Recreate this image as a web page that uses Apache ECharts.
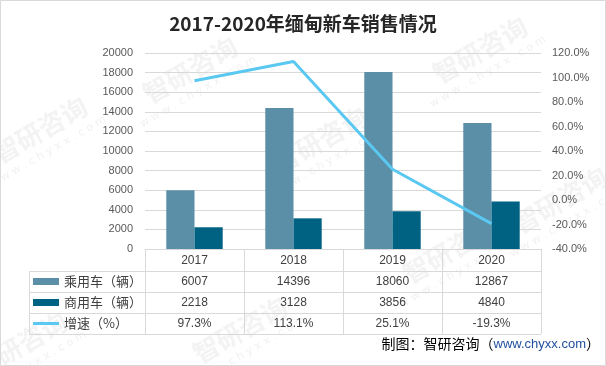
<!DOCTYPE html>
<html><head><meta charset="utf-8">
<script src="https://cdn.jsdelivr.net/npm/echarts@6/dist/echarts.min.js"></script>
<style>html,body{margin:0;padding:0;background:#fff}#c{width:606px;height:366px}</style>
</head><body><div id="c"></div>
<script>
var title = '2017-2020年缅甸新车销售情况';
var years = ['2017', '2018', '2019', '2020'];
var seriesNames = ['乘用车（辆）', '商用车（辆）', '增速（%）'];
var passenger = [6007, 14396, 18060, 12867];
var commercial = [2218, 3128, 3856, 4840];
var growth = [97.3, 113.1, 25.1, -19.3];
var growthLabels = ['97.3%', '113.1%', '25.1%', '-19.3%'];
var source = '制图：智研咨询（';
var sourceUrl = 'www.chyxx.com';

var chart = echarts.init(document.getElementById('c'), null, {renderer: 'canvas'});
var grid = {left: 145, right: 65, top: 53, bottom: 117};
var gridColor = '#d9d9d9';
var tableLeft = 29, tableRight = 541, rowTop = 271, rowH = 21;

var graphics = [
  {type: 'rect', shape: {x: 0.5, y: 0.5, width: 605, height: 365}, style: {fill: 'none', stroke: '#d9d9d9', lineWidth: 1}, silent: true, z: 100}
];
// watermark
var wm = [[40, 130], [190, 70], [320, 140], [480, 50], [450, 250], [240, 330], [20, 345], [560, 200]];
wm.forEach(function (p) {
  graphics.push({type: 'text', x: p[0], y: p[1], rotation: Math.PI / 6, silent: true, z: -1,
    style: {text: '智研咨询', fill: 'rgba(200,200,200,0.22)', font: 'bold 26px "Noto Sans CJK SC"', align: 'center', verticalAlign: 'middle'}});
  graphics.push({type: 'text', x: p[0] + 8, y: p[1] + 22, rotation: Math.PI / 6, silent: true, z: -1,
    style: {text: 'w w w . c h y x x . c o m', fill: 'rgba(200,200,200,0.25)', font: '11px "DejaVu Sans"', align: 'center', verticalAlign: 'middle'}});
});
// table horizontal lines
for (var i = 0; i <= 3; i++) {
  var y = rowTop + i * rowH + 0.5;
  graphics.push({type: 'line', shape: {x1: tableLeft, y1: y, x2: tableRight, y2: y}, style: {stroke: gridColor, lineWidth: 1}, silent: true});
}
graphics.push({type: 'line', shape: {x1: tableLeft + 0.5, y1: rowTop, x2: tableLeft + 0.5, y2: rowTop + 3 * rowH}, style: {stroke: gridColor, lineWidth: 1}, silent: true});
// footer
graphics.push({type: 'text', right: 6, top: 337, style: {
  text: '{a|' + source + '}{b|' + sourceUrl + '}{a|）}',
  rich: {a: {fontSize: 14, fill: '#000', fontFamily: '"Noto Sans CJK SC"'}, b: {fontSize: 13, fill: '#1f4f9e', fontFamily: '"Liberation Sans"'}}
}});

var option = {
  animation: false,
  backgroundColor: '#fff',
  title: {text: title, left: 'center', top: 9,
    textStyle: {fontSize: 19, fontWeight: 'bold', color: '#262626', fontFamily: '"Noto Sans CJK SC"'}},
  grid: grid,
  legend: {
    orient: 'vertical', left: 33, top: rowTop, itemWidth: 26, itemHeight: 7, itemGap: 0, padding: 0,
    textStyle: {fontSize: 13, color: '#404040', lineHeight: 21, fontFamily: '"Noto Sans CJK SC"'},
    data: [{name: seriesNames[0], icon: 'rect'}, {name: seriesNames[1], icon: 'rect'},
      {name: seriesNames[2], icon: 'path://M0,0 L26,0 L26,3 L0,3 Z'}]
  },
  xAxis: {
    type: 'category', data: years,
    axisLine: {lineStyle: {color: gridColor}},
    axisTick: {show: true, length: 85, lineStyle: {color: gridColor}},
    axisLabel: {
      margin: 1, color: '#404040', fontSize: 12, lineHeight: 21, fontFamily: '"Liberation Sans"',
      formatter: function (v, idx) {
        return [v, passenger[idx], commercial[idx], growthLabels[idx]].join('\n');
      }
    }
  },
  yAxis: [
    {type: 'value', min: 0, max: 20000, interval: 2000,
      axisLine: {show: false}, axisTick: {show: false},
      axisLabel: {margin: 12, color: '#595959', fontSize: 11, fontFamily: '"Liberation Sans"',
        formatter: function (v) { return String(v); }},
      splitLine: {lineStyle: {color: gridColor}}},
    {type: 'value', min: -40, max: 120, interval: 20,
      axisLine: {show: false}, axisTick: {show: false}, splitLine: {show: false},
      axisLabel: {margin: 11, color: '#595959', fontSize: 11, fontFamily: '"Liberation Sans"',
        formatter: function (v) { return v.toFixed(1) + '%'; }}}
  ],
  series: [
    {name: seriesNames[0], type: 'bar', data: passenger, barGap: '0%', barCategoryGap: '43%',
      itemStyle: {color: '#5b8fa7'}},
    {name: seriesNames[1], type: 'bar', data: commercial, barGap: '0%', barCategoryGap: '43%',
      itemStyle: {color: '#006283'}},
    {name: seriesNames[2], type: 'line', yAxisIndex: 1, data: growth, symbol: 'none',
      lineStyle: {color: '#5bc8f2', width: 3}, itemStyle: {color: '#5bc8f2'}}
  ],
  graphic: graphics
};
chart.setOption(option);
</script></body></html>
